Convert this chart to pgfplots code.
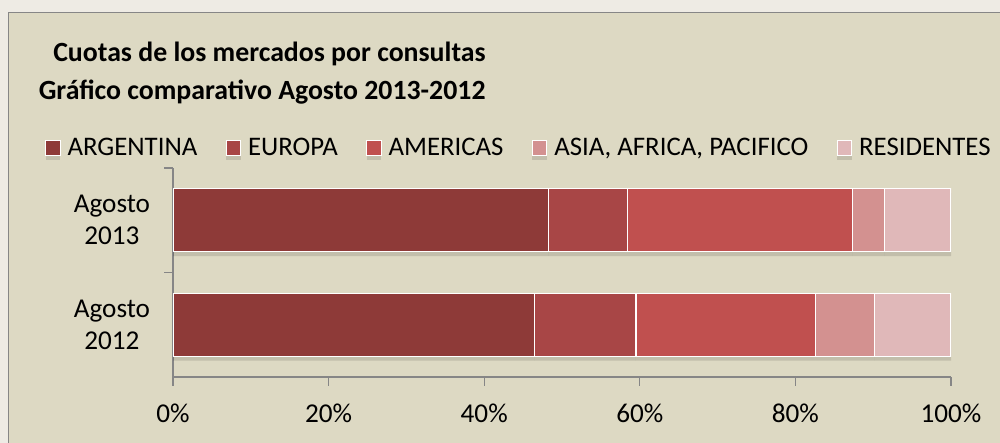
\documentclass[border=0pt]{standalone}
\usepackage{fontspec}
\setmainfont{Carlito}
\usepackage{pgfplots}
\pgfplotsset{compat=1.18}
\definecolor{bgout}{HTML}{EEEBE4}
\definecolor{bgin}{HTML}{DDD9C3}
\definecolor{axgray}{HTML}{868686}
\definecolor{cA}{HTML}{8E3A38}
\definecolor{cB}{HTML}{A84646}
\definecolor{cC}{HTML}{C0504F}
\definecolor{cD}{HTML}{D39190}
\definecolor{cE}{HTML}{E0B8B9}
\begin{document}
\begin{tikzpicture}[x=1pt,y=1pt]
\useasboundingbox (0,0) rectangle (500,221.5);
\fill[bgout] (0,0) rectangle (500,221.5);
\fill[bgin,draw=axgray,line width=0.5pt] (4,-2) rectangle (502,215);
\node[anchor=base east,inner sep=0,font=\fontsize{13.9}{16}\selectfont\bfseries] at (243,190.5) {Cuotas de los mercados por consultas};
\node[anchor=base east,inner sep=0,font=\fontsize{13.9}{16}\selectfont\bfseries] at (243,171.5) {Gráfico comparativo Agosto 2013-2012};
\begin{axis}[
  at={(86.5pt,33pt)}, anchor=south west,
  scale only axis, width=389pt, height=104.5pt,
  xbar stacked, bar width=31.5pt,
  xmin=0, xmax=100, ymin=-0.5, ymax=1.5,
  axis x line*=bottom, axis y line*=left,
  axis line style={-, draw=axgray, line width=0.75pt},
  tick align=outside,
  font=\fontsize{13.6}{16}\selectfont,
  /pgf/number format/assume math mode=true,
  xtick={0,20,40,60,80,100},
  xticklabel={\pgfmathprintnumber{\tick}\%},
  x tick style={draw=axgray, line width=0.6pt},
  major tick length=4.3pt,
  xticklabel style={anchor=center, inner sep=0pt, yshift=-14pt},
  ytick={0,1},
  yticklabels={{Agosto\\2012},{Agosto\\2013}},
  yticklabel style={align=center, inner sep=0pt, xshift=-7pt},
  y tick style={draw=none},
  extra y ticks={0.5,1.5},
  extra y tick labels={},
  extra y tick style={y tick style={draw=axgray, line width=0.6pt}},
  legend columns=5,
  legend style={at={(-0.1645,1.0957)}, anchor=west, draw=none, fill=none,
    inner sep=0pt, outer sep=0pt,
    font=\fontsize{13.4}{15}\selectfont,
    /tikz/every even column/.append style={column sep=12.6pt},
    /tikz/every odd column/.append style={column sep=2pt},
    nodes={inner sep=1.5pt}},
  legend image code/.code={\begin{scope}[preaction/.code={}]\draw[#1,draw=white,line width=0.5pt] (0pt,-3.8pt) rectangle (7.3pt,3.8pt);\end{scope}},
  every axis plot/.append style={draw=white, line width=0.6pt,
    preaction={fill=black, fill opacity=0.12, draw=none, transform canvas={yshift=-2.2pt}}},
]
\addplot[fill=cA] coordinates {(46.5,0) (48.3,1)};
\addplot[fill=cB] coordinates {(13.0,0) (10.1,1)};
\addplot[fill=cC] coordinates {(23.1,0) (28.9,1)};
\addplot[fill=cD] coordinates {(7.6,0) (4.1,1)};
\addplot[fill=cE] coordinates {(9.8,0) (8.6,1)};
\legend{ARGENTINA, EUROPA, AMERICAS, {ASIA, AFRICA, PACIFICO}, RESIDENTES}
\end{axis}
\end{tikzpicture}
\end{document}
